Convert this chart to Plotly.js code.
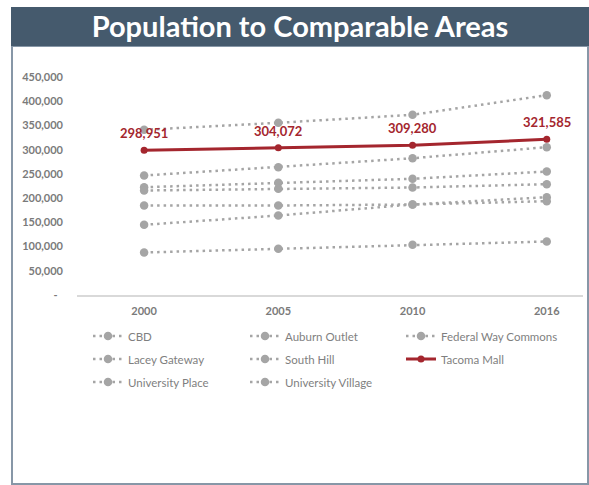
<!DOCTYPE html>
<html>
<head>
<meta charset="utf-8">
<script src="https://cdn.plot.ly/plotly-3.0.1.min.js"></script>
<style>
  html, body { margin: 0; padding: 0; background: #ffffff; }
  #chart { width: 589px; height: 485px; }
</style>
</head>
<body>
<div id="chart"></div>
<script>
// Survey years (category axis)
const years = ['2000', '2005', '2010', '2016'];

// Population by trade area
const cbd               = [341300, 355800, 372300, 412800];
const auburnOutlet      = [246900, 264000, 282600, 305400];
const federalWayCommons = [222700, 231800, 240100, 255100];
const laceyGateway      = [145000, 164200, 187000, 202100];
const southHill         = [215900, 219400, 222100, 228900];
const tacomaMall        = [298951, 304072, 309280, 321585];
const universityPlace   = [184900, 184900, 187000, 193800];
const universityVillage = [87800, 95500, 103700, 110500];

// Y axis ticks
const yTickVals = [0, 50000, 100000, 150000, 200000, 250000, 300000, 350000, 400000, 450000];
const yTickText = ['-\u00a0\u00a0', '50,000', '100,000', '150,000', '200,000', '250,000',
                   '300,000', '350,000', '400,000', '450,000'];

// ---- layout geometry (pixels) ----
const W = 589, H = 485;
const M = { l: 77, r: 6, t: 60, b: 190 };
const PW = W - M.l - M.r, PH = H - M.t - M.b;
const px = x => (x - M.l) / PW;          // pixel x -> paper x
const py = y => (H - M.b - y) / PH;      // pixel y -> paper y

const GRAY = '#a5a5a5';
const RED = '#a4262e';
const FONT = 'Lato, "Open Sans", sans-serif';

const series = [
  { name: 'CBD',                 y: cbd },
  { name: 'Auburn Outlet',       y: auburnOutlet },
  { name: 'Federal Way Commons', y: federalWayCommons },
  { name: 'Lacey Gateway',       y: laceyGateway },
  { name: 'South Hill',          y: southHill },
  { name: 'Tacoma Mall',         y: tacomaMall, highlight: true },
  { name: 'University Place',    y: universityPlace },
  { name: 'University Village',  y: universityVillage }
];

// legend slots: 3 columns x 3 rows, filled row by row
const legendCols = [88, 245, 401];
const legendRows = [336, 359, 382];

const traces = [];
const layoutLegends = {};
series.forEach((s, i) => {
  const key = i === 0 ? 'legend' : 'legend' + (i + 1);
  layoutLegends[key] = {
    x: px(legendCols[i % 3]), xanchor: 'left',
    y: py(legendRows[Math.floor(i / 3)]), yanchor: 'middle',
    bgcolor: 'rgba(0,0,0,0)', borderwidth: 0,
    font: { family: FONT, size: 11.5, color: '#7f7f7f' },
    orientation: 'h'
  };
  const t = {
    type: 'scatter', mode: 'lines+markers',
    x: years, y: s.y, name: s.name, legend: key,
    hoverinfo: 'x+y+name'
  };
  if (s.highlight) {
    t.line = { color: RED, width: 3 };
    t.marker = { color: RED, size: 7 };
  } else {
    t.line = { color: GRAY, width: 2.5, dash: '2.5px,4px' };
    t.marker = { color: GRAY, size: 8.5 };
  }
  traces.push(t);
});
// draw the highlighted series on top
const hi = traces.splice(5, 1)[0];
traces.push(hi);

// value labels on the Tacoma Mall line (x given as category index)
const labels = years.map((yr, i) => ({
  x: i, y: tacomaMall[i], xref: 'x', yref: 'y',
  text: tacomaMall[i].toLocaleString('en-US'),
  showarrow: false, yshift: 17,
  font: { family: FONT, size: 13, color: RED, weight: 'bold' }
}));

const layout = {
  width: W, height: H,
  margin: M,
  paper_bgcolor: '#ffffff', plot_bgcolor: 'rgba(0,0,0,0)',
  showlegend: true,
  title: {
    text: 'Population to Comparable Areas',
    font: { family: FONT, size: 29, color: '#ffffff', weight: 'bold' },
    xref: 'container', yref: 'container',
    x: 300 / W, xanchor: 'center',
    y: 1 - 27 / H, yanchor: 'middle'
  },
  xaxis: {
    type: 'category',
    range: [-0.5, 3.27],
    showgrid: false, zeroline: false,
    showline: true, linecolor: '#d9d9d9', linewidth: 2,
    ticks: '', ticklabelstandoff: 5,
    tickfont: { family: FONT, size: 11, color: '#7a7a7a', weight: 'bold' },
    fixedrange: true
  },
  yaxis: {
    range: [0, 485537],
    showgrid: false, zeroline: false, showline: false,
    tickvals: yTickVals, ticktext: yTickText,
    ticks: '', ticklabelstandoff: 13,
    tickfont: { family: FONT, size: 11, color: '#7a7a7a', weight: 'bold' },
    fixedrange: true
  },
  shapes: [
    // outer frame
    { type: 'rect', xref: 'paper', yref: 'paper', layer: 'below',
      x0: px(12), x1: px(588), y0: py(484), y1: py(46),
      line: { color: '#8797a7', width: 2 }, fillcolor: 'rgba(0,0,0,0)' },
    // title band
    { type: 'rect', xref: 'paper', yref: 'paper', layer: 'below',
      x0: px(11), x1: px(589), y0: py(46), y1: py(7),
      line: { width: 0 }, fillcolor: '#455a6d' }
  ],
  annotations: labels,
  ...layoutLegends
};

Plotly.newPlot('chart', traces, layout, { displayModeBar: false, staticPlot: true });
</script>
</body>
</html>
